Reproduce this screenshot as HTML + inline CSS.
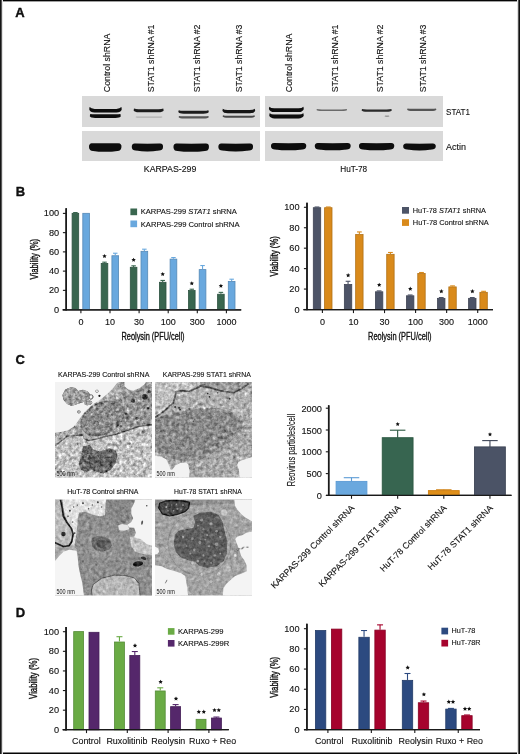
<!DOCTYPE html><html><head><meta charset="utf-8"><style>html,body{margin:0;padding:0;background:#fff;width:520px;height:754px;overflow:hidden}svg{display:block} text{filter:grayscale(1)}</style></head><body>
<svg width="520" height="754" viewBox="0 0 520 754" font-family="'Liberation Sans', sans-serif">
<defs><filter id="bl" x="-20%" y="-50%" width="140%" height="200%"><feGaussianBlur stdDeviation="0.45"/></filter><filter id="bl2" x="-20%" y="-50%" width="140%" height="200%"><feGaussianBlur stdDeviation="0.7"/></filter></defs>
<rect width="520" height="754" fill="#fff"/>
<text x="15.2" y="16.7" font-size="13.0" font-weight="bold" fill="#111" stroke="#000" stroke-width="0.35">A</text>
<text transform="translate(110.4,92.2) rotate(-90)" font-size="9.2" textLength="58.6" lengthAdjust="spacingAndGlyphs" fill="#111" stroke="#111" stroke-width="0.12">Control shRNA</text>
<text transform="translate(153.5,92.2) rotate(-90)" font-size="9.2" textLength="67.6" lengthAdjust="spacingAndGlyphs" fill="#111" stroke="#111" stroke-width="0.12">STAT1 shRNA #1</text>
<text transform="translate(200.1,92.2) rotate(-90)" font-size="9.2" textLength="67.6" lengthAdjust="spacingAndGlyphs" fill="#111" stroke="#111" stroke-width="0.12">STAT1 shRNA #2</text>
<text transform="translate(241.7,92.2) rotate(-90)" font-size="9.2" textLength="67.6" lengthAdjust="spacingAndGlyphs" fill="#111" stroke="#111" stroke-width="0.12">STAT1 shRNA #3</text>
<text transform="translate(292.2,92.2) rotate(-90)" font-size="9.2" textLength="58.6" lengthAdjust="spacingAndGlyphs" fill="#111" stroke="#111" stroke-width="0.12">Control shRNA</text>
<text transform="translate(338.1,92.2) rotate(-90)" font-size="9.2" textLength="67.6" lengthAdjust="spacingAndGlyphs" fill="#111" stroke="#111" stroke-width="0.12">STAT1 shRNA #1</text>
<text transform="translate(383.1,92.2) rotate(-90)" font-size="9.2" textLength="67.6" lengthAdjust="spacingAndGlyphs" fill="#111" stroke="#111" stroke-width="0.12">STAT1 shRNA #2</text>
<text transform="translate(426.3,92.2) rotate(-90)" font-size="9.2" textLength="67.6" lengthAdjust="spacingAndGlyphs" fill="#111" stroke="#111" stroke-width="0.12">STAT1 shRNA #3</text>
<rect x="82" y="96" width="178" height="31" fill="#d9d9d9"/>
<rect x="82" y="131" width="178" height="30" fill="#d9d9d9"/>
<rect x="265" y="96" width="178" height="31" fill="#d9d9d9"/>
<rect x="265" y="131" width="178" height="30" fill="#d9d9d9"/>
<path d="M89.6,107.1 Q91.1,108.9 94.6,108.9 L116.4,108.9 Q119.9,108.9 121.4,107.1 L121.8,109.2 Q120.9,112.4 116.4,112.4 L94.6,112.4 Q90.1,112.4 89.2,109.2 Z" fill="#0d0d0d" opacity="1" filter="url(#bl)"/>
<path d="M90.2,114.0 Q91.7,114.3 95.2,114.3 L115.4,114.3 Q118.9,114.3 120.4,114.0 L120.8,116.2 Q119.9,117.9 115.4,117.9 L95.2,117.9 Q90.7,117.9 89.8,116.2 Z" fill="#0d0d0d" opacity="1" filter="url(#bl)"/>
<path d="M134.0,108.6 Q135.5,109.2 139.0,109.2 L158.3,109.2 Q161.8,109.2 163.3,108.6 L163.7,110.5 Q162.8,112.3 158.3,112.3 L139.0,112.3 Q134.5,112.3 133.6,110.5 Z" fill="#1e1e1e" opacity="1" filter="url(#bl)"/>
<path d="M136.0,116.4 Q137.5,116.4 141.0,116.4 L157.0,116.4 Q160.5,116.4 162.0,116.4 L162.4,117.2 Q161.5,117.8 157.0,117.8 L141.0,117.8 Q136.5,117.8 135.6,117.2 Z" fill="#b0b0b0" opacity="1" filter="url(#bl2)"/>
<path d="M178.7,110.2 Q180.2,110.7 183.7,110.7 L203.4,110.7 Q206.9,110.7 208.4,110.2 L208.8,112.0 Q207.9,113.7 203.4,113.7 L183.7,113.7 Q179.2,113.7 178.3,112.0 Z" fill="#1a1a1a" opacity="1" filter="url(#bl)"/>
<path d="M179.0,115.9 Q180.5,116.3 184.0,116.3 L203.4,116.3 Q206.9,116.3 208.4,115.9 L208.8,117.2 Q207.9,118.5 203.4,118.5 L184.0,118.5 Q179.5,118.5 178.6,117.2 Z" fill="#555" opacity="1" filter="url(#bl)"/>
<path d="M222.8,108.7 Q224.3,109.9 227.8,109.9 L249.8,109.9 Q253.3,109.9 254.8,108.7 L255.2,110.7 Q254.3,113.2 249.8,113.2 L227.8,113.2 Q223.3,113.2 222.4,110.7 Z" fill="#141414" opacity="1" filter="url(#bl)"/>
<path d="M223.0,115.2 Q224.5,115.7 228.0,115.7 L249.5,115.7 Q253.0,115.7 254.5,115.2 L254.9,116.5 Q254.0,117.8 249.5,117.8 L228.0,117.8 Q223.5,117.8 222.6,116.5 Z" fill="#4a4a4a" opacity="1" filter="url(#bl)"/>
<path d="M92.0,143.2 Q105.2,143.5 118.4,143.2 Q121.9,143.5 121.4,147.2 Q121.1,150.9 117.4,150.9 Q105.2,152.7 93.0,150.9 Q89.3,150.9 89.0,147.2 Q88.7,143.5 92.0,143.2 Z" fill="#0a0a0a" filter="url(#bl)"/>
<path d="M134.8,143.5 Q147.4,143.8 160.0,143.5 Q163.5,143.8 163.0,147.2 Q162.7,150.5 159.0,150.5 Q147.4,152.3 135.8,150.5 Q132.1,150.5 131.8,147.2 Q131.5,143.8 134.8,143.5 Z" fill="#0a0a0a" filter="url(#bl)"/>
<path d="M176.5,143.6 Q191.2,143.9 205.9,143.6 Q209.4,143.9 208.9,147.4 Q208.6,150.9 204.9,150.9 Q191.2,152.7 177.5,150.9 Q173.8,150.9 173.5,147.4 Q173.2,143.9 176.5,143.6 Z" fill="#0a0a0a" filter="url(#bl)"/>
<path d="M221.4,143.6 Q235.7,143.9 250.0,143.6 Q253.5,143.9 253.0,147.2 Q252.7,150.5 249.0,150.5 Q235.7,152.3 222.4,150.5 Q218.7,150.5 218.4,147.2 Q218.1,143.9 221.4,143.6 Z" fill="#0a0a0a" filter="url(#bl)"/>
<path d="M269.3,106.7 Q270.8,108.3 274.3,108.3 L298.4,108.3 Q301.9,108.3 303.4,106.7 L303.8,109.0 Q302.9,112.1 298.4,112.1 L274.3,112.1 Q269.8,112.1 268.9,109.0 Z" fill="#0d0d0d" opacity="1" filter="url(#bl)"/>
<path d="M269.6,113.2 Q271.1,114.4 274.6,114.4 L298.4,114.4 Q301.9,114.4 303.4,113.2 L303.8,115.6 Q302.9,118.4 298.4,118.4 L274.6,118.4 Q270.1,118.4 269.2,115.6 Z" fill="#0d0d0d" opacity="1" filter="url(#bl)"/>
<path d="M316.9,109.1 Q318.4,109.4 321.9,109.4 L341.7,109.4 Q345.2,109.4 346.7,109.1 L347.1,110.1 Q346.2,111.1 341.7,111.1 L321.9,111.1 Q317.4,111.1 316.5,110.1 Z" fill="#6a6a6a" opacity="1" filter="url(#bl)"/>
<path d="M362.0,109.1 Q363.5,109.5 367.0,109.5 L386.4,109.5 Q389.9,109.5 391.4,109.1 L391.8,110.5 Q390.9,111.8 386.4,111.8 L367.0,111.8 Q362.5,111.8 361.6,110.5 Z" fill="#2a2a2a" opacity="1" filter="url(#bl)"/>
<path d="M385.0,115.5 Q386.5,115.5 390.0,115.5 L384.0,115.5 Q387.5,115.5 389.0,115.5 L389.4,116.4 Q388.5,117.0 384.0,117.0 L390.0,117.0 Q385.5,117.0 384.6,116.4 Z" fill="#999" opacity="1" filter="url(#bl2)"/>
<path d="M407.5,108.5 Q409.0,108.8 412.5,108.8 L431.0,108.8 Q434.5,108.8 436.0,108.5 L436.4,109.8 Q435.5,111.0 431.0,111.0 L412.5,111.0 Q408.0,111.0 407.1,109.8 Z" fill="#555" opacity="1" filter="url(#bl)"/>
<path d="M274.0,143.0 Q288.6,143.3 303.2,143.0 Q306.7,143.3 306.2,146.4 Q305.9,149.4 302.2,149.4 Q288.6,151.2 275.0,149.4 Q271.3,149.4 271.0,146.4 Q270.7,143.3 274.0,143.0 Z" fill="#0a0a0a" filter="url(#bl)"/>
<path d="M317.8,143.0 Q332.7,143.3 347.6,143.0 Q351.1,143.3 350.6,146.4 Q350.3,149.4 346.6,149.4 Q332.7,151.2 318.8,149.4 Q315.1,149.4 314.8,146.4 Q314.5,143.3 317.8,143.0 Z" fill="#0a0a0a" filter="url(#bl)"/>
<path d="M362.0,143.0 Q376.6,143.3 391.2,143.0 Q394.7,143.3 394.2,146.4 Q393.9,149.4 390.2,149.4 Q376.6,151.2 363.0,149.4 Q359.3,149.4 359.0,146.4 Q358.7,143.3 362.0,143.0 Z" fill="#0a0a0a" filter="url(#bl)"/>
<path d="M406.2,143.6 Q419.4,143.9 432.7,143.6 Q436.2,143.9 435.7,146.8 Q435.4,149.5 431.7,149.5 Q419.4,151.3 407.2,149.5 Q403.5,149.5 403.2,146.8 Q402.9,143.9 406.2,143.6 Z" fill="#0a0a0a" filter="url(#bl)"/>
<text x="446" y="115.1" font-size="9.2" textLength="24.0" lengthAdjust="spacingAndGlyphs" fill="#111" stroke="#111" stroke-width="0.12">STAT1</text>
<text x="446" y="150.1" font-size="9.2" textLength="20.0" lengthAdjust="spacingAndGlyphs" fill="#111" stroke="#111" stroke-width="0.12">Actin</text>
<text x="143.8" y="172.2" font-size="9.0" textLength="52.6" lengthAdjust="spacingAndGlyphs" fill="#111" stroke="#111" stroke-width="0.12">KARPAS-299</text>
<text x="340.2" y="172.2" font-size="9.0" textLength="27.0" lengthAdjust="spacingAndGlyphs" fill="#111" stroke="#111" stroke-width="0.12">HuT-78</text>
<text x="15.8" y="195.7" font-size="13.0" font-weight="bold" fill="#111" stroke="#000" stroke-width="0.35">B</text>
<line x1="66.2" y1="208.3" x2="66.2" y2="310.20000000000005" stroke="#1a1a1a" stroke-width="1.5"/>
<line x1="62.9" y1="309.60" x2="66.2" y2="309.60" stroke="#1a1a1a" stroke-width="1.1"/>
<text x="59.2" y="312.60" font-size="9.2" text-anchor="end" fill="#111" stroke="#111" stroke-width="0.12">0</text>
<line x1="62.9" y1="290.36" x2="66.2" y2="290.36" stroke="#1a1a1a" stroke-width="1.1"/>
<text x="59.2" y="293.36" font-size="9.2" text-anchor="end" fill="#111" stroke="#111" stroke-width="0.12">20</text>
<line x1="62.9" y1="271.12" x2="66.2" y2="271.12" stroke="#1a1a1a" stroke-width="1.1"/>
<text x="59.2" y="274.12" font-size="9.2" text-anchor="end" fill="#111" stroke="#111" stroke-width="0.12">40</text>
<line x1="62.9" y1="251.88" x2="66.2" y2="251.88" stroke="#1a1a1a" stroke-width="1.1"/>
<text x="59.2" y="254.88" font-size="9.2" text-anchor="end" fill="#111" stroke="#111" stroke-width="0.12">60</text>
<line x1="62.9" y1="232.64" x2="66.2" y2="232.64" stroke="#1a1a1a" stroke-width="1.1"/>
<text x="59.2" y="235.64" font-size="9.2" text-anchor="end" fill="#111" stroke="#111" stroke-width="0.12">80</text>
<line x1="62.9" y1="213.40" x2="66.2" y2="213.40" stroke="#1a1a1a" stroke-width="1.1"/>
<text x="59.2" y="216.40" font-size="9.2" text-anchor="end" fill="#111" stroke="#111" stroke-width="0.12">100</text>
<line x1="62.7" y1="309.8" x2="241.2" y2="309.8" stroke="#1a1a1a" stroke-width="1.3"/>
<line x1="80.90" y1="309.8" x2="80.90" y2="313.2" stroke="#1a1a1a" stroke-width="1.1"/>
<line x1="110.00" y1="309.8" x2="110.00" y2="313.2" stroke="#1a1a1a" stroke-width="1.1"/>
<line x1="139.10" y1="309.8" x2="139.10" y2="313.2" stroke="#1a1a1a" stroke-width="1.1"/>
<line x1="168.20" y1="309.8" x2="168.20" y2="313.2" stroke="#1a1a1a" stroke-width="1.1"/>
<line x1="197.30" y1="309.8" x2="197.30" y2="313.2" stroke="#1a1a1a" stroke-width="1.1"/>
<line x1="226.40" y1="309.8" x2="226.40" y2="313.2" stroke="#1a1a1a" stroke-width="1.1"/>
<text x="80.90" y="324.7" font-size="9" text-anchor="middle" fill="#111" stroke="#111" stroke-width="0.12">0</text>
<text x="110.00" y="324.7" font-size="9" text-anchor="middle" fill="#111" stroke="#111" stroke-width="0.12">10</text>
<text x="139.10" y="324.7" font-size="9" text-anchor="middle" fill="#111" stroke="#111" stroke-width="0.12">30</text>
<text x="168.20" y="324.7" font-size="9" text-anchor="middle" fill="#111" stroke="#111" stroke-width="0.12">100</text>
<text x="197.30" y="324.7" font-size="9" text-anchor="middle" fill="#111" stroke="#111" stroke-width="0.12">300</text>
<text x="226.40" y="324.7" font-size="9" text-anchor="middle" fill="#111" stroke="#111" stroke-width="0.12">1000</text>
<rect x="72.10" y="213.32" width="6.60" height="96.28" fill="#39664f" stroke="#2e5340" stroke-width="0.8"/>
<line x1="75.40" y1="212.92" x2="75.40" y2="212.53" stroke="#39664f" stroke-width="1.1"/>
<line x1="73.15" y1="212.53" x2="77.65" y2="212.53" stroke="#39664f" stroke-width="1.1"/>
<rect x="82.80" y="213.32" width="6.70" height="96.28" fill="#69a8de" stroke="#5689b6" stroke-width="0.8"/>
<rect x="101.20" y="263.44" width="6.60" height="46.16" fill="#39664f" stroke="#2e5340" stroke-width="0.8"/>
<line x1="104.50" y1="263.04" x2="104.50" y2="262.17" stroke="#39664f" stroke-width="1.1"/>
<line x1="102.25" y1="262.17" x2="106.75" y2="262.17" stroke="#39664f" stroke-width="1.1"/>
<rect x="111.90" y="255.74" width="6.70" height="53.86" fill="#69a8de" stroke="#5689b6" stroke-width="0.8"/>
<line x1="115.25" y1="255.34" x2="115.25" y2="253.23" stroke="#69a8de" stroke-width="1.1"/>
<line x1="113.00" y1="253.23" x2="117.50" y2="253.23" stroke="#69a8de" stroke-width="1.1"/>
<rect x="130.30" y="267.29" width="6.60" height="42.31" fill="#39664f" stroke="#2e5340" stroke-width="0.8"/>
<line x1="133.60" y1="266.89" x2="133.60" y2="265.83" stroke="#39664f" stroke-width="1.1"/>
<line x1="131.35" y1="265.83" x2="135.85" y2="265.83" stroke="#39664f" stroke-width="1.1"/>
<rect x="141.00" y="251.32" width="6.70" height="58.28" fill="#69a8de" stroke="#5689b6" stroke-width="0.8"/>
<line x1="144.35" y1="250.92" x2="144.35" y2="249.19" stroke="#69a8de" stroke-width="1.1"/>
<line x1="142.10" y1="249.19" x2="146.60" y2="249.19" stroke="#69a8de" stroke-width="1.1"/>
<rect x="159.40" y="282.29" width="6.60" height="27.31" fill="#39664f" stroke="#2e5340" stroke-width="0.8"/>
<line x1="162.70" y1="281.89" x2="162.70" y2="280.45" stroke="#39664f" stroke-width="1.1"/>
<line x1="160.45" y1="280.45" x2="164.95" y2="280.45" stroke="#39664f" stroke-width="1.1"/>
<rect x="170.10" y="259.11" width="6.70" height="50.49" fill="#69a8de" stroke="#5689b6" stroke-width="0.8"/>
<line x1="173.45" y1="258.71" x2="173.45" y2="257.56" stroke="#69a8de" stroke-width="1.1"/>
<line x1="171.20" y1="257.56" x2="175.70" y2="257.56" stroke="#69a8de" stroke-width="1.1"/>
<rect x="188.50" y="290.57" width="6.60" height="19.03" fill="#39664f" stroke="#2e5340" stroke-width="0.8"/>
<line x1="191.80" y1="290.17" x2="191.80" y2="289.21" stroke="#39664f" stroke-width="1.1"/>
<line x1="189.55" y1="289.21" x2="194.05" y2="289.21" stroke="#39664f" stroke-width="1.1"/>
<rect x="199.20" y="269.60" width="6.70" height="40.00" fill="#69a8de" stroke="#5689b6" stroke-width="0.8"/>
<line x1="202.55" y1="269.20" x2="202.55" y2="265.54" stroke="#69a8de" stroke-width="1.1"/>
<line x1="200.30" y1="265.54" x2="204.80" y2="265.54" stroke="#69a8de" stroke-width="1.1"/>
<rect x="217.60" y="294.22" width="6.60" height="15.38" fill="#39664f" stroke="#2e5340" stroke-width="0.8"/>
<line x1="220.90" y1="293.82" x2="220.90" y2="292.38" stroke="#39664f" stroke-width="1.1"/>
<line x1="218.65" y1="292.38" x2="223.15" y2="292.38" stroke="#39664f" stroke-width="1.1"/>
<rect x="228.30" y="281.43" width="6.70" height="28.17" fill="#69a8de" stroke="#5689b6" stroke-width="0.8"/>
<line x1="231.65" y1="281.03" x2="231.65" y2="279.20" stroke="#69a8de" stroke-width="1.1"/>
<line x1="229.40" y1="279.20" x2="233.90" y2="279.20" stroke="#69a8de" stroke-width="1.1"/>
<polygon points="104.50,253.90 105.15,255.31 106.69,255.49 105.55,256.54 105.85,258.06 104.50,257.30 103.15,258.06 103.45,256.54 102.31,255.49 103.85,255.31" fill="#111"/>
<polygon points="133.60,257.70 134.25,259.11 135.79,259.29 134.65,260.34 134.95,261.86 133.60,261.10 132.25,261.86 132.55,260.34 131.41,259.29 132.95,259.11" fill="#111"/>
<polygon points="162.70,271.90 163.35,273.31 164.89,273.49 163.75,274.54 164.05,276.06 162.70,275.30 161.35,276.06 161.65,274.54 160.51,273.49 162.05,273.31" fill="#111"/>
<polygon points="191.80,281.20 192.45,282.61 193.99,282.79 192.85,283.84 193.15,285.36 191.80,284.60 190.45,285.36 190.75,283.84 189.61,282.79 191.15,282.61" fill="#111"/>
<polygon points="220.90,283.70 221.55,285.11 223.09,285.29 221.95,286.34 222.25,287.86 220.90,287.10 219.55,287.86 219.85,286.34 218.71,285.29 220.25,285.11" fill="#111"/>
<line x1="62.7" y1="309.8" x2="241.2" y2="309.8" stroke="#1a1a1a" stroke-width="1.3"/>
<line x1="66.2" y1="208.3" x2="66.2" y2="310.4" stroke="#1a1a1a" stroke-width="1.5"/>
<rect x="130.4" y="208.5" width="6.7" height="6.7" fill="#39664f"/>
<rect x="130.4" y="220.5" width="6.7" height="6.7" fill="#69a8de"/>
<text x="140.7" y="214.4" font-size="7.8" fill="#111" stroke="#111" stroke-width="0.12" textLength="96.2" lengthAdjust="spacingAndGlyphs">KARPAS-299 <tspan font-style="italic">STAT1</tspan> shRNA</text>
<text x="140.7" y="226.5" font-size="7.8" fill="#111" stroke="#111" stroke-width="0.12" textLength="98.8" lengthAdjust="spacingAndGlyphs">KARPAS-299 Control shRNA</text>
<text transform="translate(37.9,279.6) rotate(-90)" font-size="10.8" textLength="40.8" lengthAdjust="spacingAndGlyphs" fill="#111" stroke="#111" stroke-width="0.38">Viability (%)</text>
<text x="153.0" y="339.8" font-size="10.6" text-anchor="middle" textLength="63.0" lengthAdjust="spacingAndGlyphs" fill="#111" stroke="#111" stroke-width="0.35">Reolysin (PFU/cell)</text>
<line x1="307.0" y1="202.8" x2="307.0" y2="310.1" stroke="#1a1a1a" stroke-width="1.5"/>
<line x1="303.9" y1="309.50" x2="307.0" y2="309.50" stroke="#1a1a1a" stroke-width="1.1"/>
<text x="299.6" y="312.50" font-size="9.2" text-anchor="end" fill="#111" stroke="#111" stroke-width="0.12">0</text>
<line x1="303.9" y1="289.06" x2="307.0" y2="289.06" stroke="#1a1a1a" stroke-width="1.1"/>
<text x="299.6" y="292.06" font-size="9.2" text-anchor="end" fill="#111" stroke="#111" stroke-width="0.12">20</text>
<line x1="303.9" y1="268.62" x2="307.0" y2="268.62" stroke="#1a1a1a" stroke-width="1.1"/>
<text x="299.6" y="271.62" font-size="9.2" text-anchor="end" fill="#111" stroke="#111" stroke-width="0.12">40</text>
<line x1="303.9" y1="248.18" x2="307.0" y2="248.18" stroke="#1a1a1a" stroke-width="1.1"/>
<text x="299.6" y="251.18" font-size="9.2" text-anchor="end" fill="#111" stroke="#111" stroke-width="0.12">60</text>
<line x1="303.9" y1="227.74" x2="307.0" y2="227.74" stroke="#1a1a1a" stroke-width="1.1"/>
<text x="299.6" y="230.74" font-size="9.2" text-anchor="end" fill="#111" stroke="#111" stroke-width="0.12">80</text>
<line x1="303.9" y1="207.30" x2="307.0" y2="207.30" stroke="#1a1a1a" stroke-width="1.1"/>
<text x="299.6" y="210.30" font-size="9.2" text-anchor="end" fill="#111" stroke="#111" stroke-width="0.12">100</text>
<line x1="303.5" y1="309.7" x2="493.0" y2="309.7" stroke="#1a1a1a" stroke-width="1.3"/>
<line x1="322.40" y1="309.7" x2="322.40" y2="313.09999999999997" stroke="#1a1a1a" stroke-width="1.1"/>
<line x1="353.46" y1="309.7" x2="353.46" y2="313.09999999999997" stroke="#1a1a1a" stroke-width="1.1"/>
<line x1="384.52" y1="309.7" x2="384.52" y2="313.09999999999997" stroke="#1a1a1a" stroke-width="1.1"/>
<line x1="415.58" y1="309.7" x2="415.58" y2="313.09999999999997" stroke="#1a1a1a" stroke-width="1.1"/>
<line x1="446.64" y1="309.7" x2="446.64" y2="313.09999999999997" stroke="#1a1a1a" stroke-width="1.1"/>
<line x1="477.70" y1="309.7" x2="477.70" y2="313.09999999999997" stroke="#1a1a1a" stroke-width="1.1"/>
<text x="322.40" y="324.8" font-size="9" text-anchor="middle" fill="#111" stroke="#111" stroke-width="0.12">0</text>
<text x="353.46" y="324.8" font-size="9" text-anchor="middle" fill="#111" stroke="#111" stroke-width="0.12">10</text>
<text x="384.52" y="324.8" font-size="9" text-anchor="middle" fill="#111" stroke="#111" stroke-width="0.12">30</text>
<text x="415.58" y="324.8" font-size="9" text-anchor="middle" fill="#111" stroke="#111" stroke-width="0.12">100</text>
<text x="446.64" y="324.8" font-size="9" text-anchor="middle" fill="#111" stroke="#111" stroke-width="0.12">300</text>
<text x="477.70" y="324.8" font-size="9" text-anchor="middle" fill="#111" stroke="#111" stroke-width="0.12">1000</text>
<rect x="313.30" y="207.70" width="7.40" height="101.80" fill="#4d5467" stroke="#3f4454" stroke-width="0.8"/>
<line x1="317.00" y1="207.30" x2="317.00" y2="206.99" stroke="#4d5467" stroke-width="1.1"/>
<line x1="314.60" y1="206.99" x2="319.40" y2="206.99" stroke="#4d5467" stroke-width="1.1"/>
<rect x="324.60" y="207.70" width="7.40" height="101.80" fill="#d98a1b" stroke="#b17116" stroke-width="0.8"/>
<line x1="328.30" y1="207.30" x2="328.30" y2="206.99" stroke="#d98a1b" stroke-width="1.1"/>
<line x1="325.90" y1="206.99" x2="330.70" y2="206.99" stroke="#d98a1b" stroke-width="1.1"/>
<rect x="344.36" y="284.45" width="7.40" height="25.05" fill="#4d5467" stroke="#3f4454" stroke-width="0.8"/>
<line x1="348.06" y1="284.05" x2="348.06" y2="281.29" stroke="#4d5467" stroke-width="1.1"/>
<line x1="345.66" y1="281.29" x2="350.46" y2="281.29" stroke="#4d5467" stroke-width="1.1"/>
<rect x="355.66" y="234.58" width="7.40" height="74.92" fill="#d98a1b" stroke="#b17116" stroke-width="0.8"/>
<line x1="359.36" y1="234.18" x2="359.36" y2="231.93" stroke="#d98a1b" stroke-width="1.1"/>
<line x1="356.96" y1="231.93" x2="361.76" y2="231.93" stroke="#d98a1b" stroke-width="1.1"/>
<rect x="375.42" y="291.81" width="7.40" height="17.69" fill="#4d5467" stroke="#3f4454" stroke-width="0.8"/>
<line x1="379.12" y1="291.41" x2="379.12" y2="290.90" stroke="#4d5467" stroke-width="1.1"/>
<line x1="376.72" y1="290.90" x2="381.52" y2="290.90" stroke="#4d5467" stroke-width="1.1"/>
<rect x="386.72" y="254.30" width="7.40" height="55.20" fill="#d98a1b" stroke="#b17116" stroke-width="0.8"/>
<line x1="390.42" y1="253.90" x2="390.42" y2="252.47" stroke="#d98a1b" stroke-width="1.1"/>
<line x1="388.02" y1="252.47" x2="392.82" y2="252.47" stroke="#d98a1b" stroke-width="1.1"/>
<rect x="406.48" y="295.80" width="7.40" height="13.70" fill="#4d5467" stroke="#3f4454" stroke-width="0.8"/>
<line x1="410.18" y1="295.40" x2="410.18" y2="294.99" stroke="#4d5467" stroke-width="1.1"/>
<line x1="407.78" y1="294.99" x2="412.58" y2="294.99" stroke="#4d5467" stroke-width="1.1"/>
<rect x="417.78" y="273.52" width="7.40" height="35.98" fill="#d98a1b" stroke="#b17116" stroke-width="0.8"/>
<line x1="421.48" y1="273.12" x2="421.48" y2="272.50" stroke="#d98a1b" stroke-width="1.1"/>
<line x1="419.08" y1="272.50" x2="423.88" y2="272.50" stroke="#d98a1b" stroke-width="1.1"/>
<rect x="437.54" y="298.35" width="7.40" height="11.15" fill="#4d5467" stroke="#3f4454" stroke-width="0.8"/>
<line x1="441.24" y1="297.95" x2="441.24" y2="297.54" stroke="#4d5467" stroke-width="1.1"/>
<line x1="438.84" y1="297.54" x2="443.64" y2="297.54" stroke="#4d5467" stroke-width="1.1"/>
<rect x="448.84" y="286.90" width="7.40" height="22.60" fill="#d98a1b" stroke="#b17116" stroke-width="0.8"/>
<line x1="452.54" y1="286.50" x2="452.54" y2="285.89" stroke="#d98a1b" stroke-width="1.1"/>
<line x1="450.14" y1="285.89" x2="454.94" y2="285.89" stroke="#d98a1b" stroke-width="1.1"/>
<rect x="468.60" y="298.35" width="7.40" height="11.15" fill="#4d5467" stroke="#3f4454" stroke-width="0.8"/>
<line x1="472.30" y1="297.95" x2="472.30" y2="297.54" stroke="#4d5467" stroke-width="1.1"/>
<line x1="469.90" y1="297.54" x2="474.70" y2="297.54" stroke="#4d5467" stroke-width="1.1"/>
<rect x="479.90" y="292.32" width="7.40" height="17.18" fill="#d98a1b" stroke="#b17116" stroke-width="0.8"/>
<line x1="483.60" y1="291.92" x2="483.60" y2="291.31" stroke="#d98a1b" stroke-width="1.1"/>
<line x1="481.20" y1="291.31" x2="486.00" y2="291.31" stroke="#d98a1b" stroke-width="1.1"/>
<polygon points="348.16,273.00 348.81,274.41 350.35,274.59 349.21,275.64 349.51,277.16 348.16,276.40 346.81,277.16 347.11,275.64 345.97,274.59 347.51,274.41" fill="#111"/>
<polygon points="379.22,282.70 379.87,284.11 381.41,284.29 380.27,285.34 380.57,286.86 379.22,286.10 377.87,286.86 378.17,285.34 377.03,284.29 378.57,284.11" fill="#111"/>
<polygon points="410.28,286.60 410.93,288.01 412.47,288.19 411.33,289.24 411.63,290.76 410.28,290.00 408.93,290.76 409.23,289.24 408.09,288.19 409.63,288.01" fill="#111"/>
<polygon points="441.34,289.00 441.99,290.41 443.53,290.59 442.39,291.64 442.69,293.16 441.34,292.40 439.99,293.16 440.29,291.64 439.15,290.59 440.69,290.41" fill="#111"/>
<polygon points="472.40,289.00 473.05,290.41 474.59,290.59 473.45,291.64 473.75,293.16 472.40,292.40 471.05,293.16 471.35,291.64 470.21,290.59 471.75,290.41" fill="#111"/>
<line x1="303.5" y1="309.7" x2="493.0" y2="309.7" stroke="#1a1a1a" stroke-width="1.3"/>
<line x1="307.0" y1="202.8" x2="307.0" y2="310.3" stroke="#1a1a1a" stroke-width="1.5"/>
<rect x="402" y="207" width="7" height="6.7" fill="#4d5467"/>
<rect x="402" y="219.2" width="7" height="6.7" fill="#d98a1b"/>
<text x="412.8" y="213.0" font-size="7.6" fill="#111" stroke="#111" stroke-width="0.12" textLength="73.2" lengthAdjust="spacingAndGlyphs">HuT-78 <tspan font-style="italic">STAT1</tspan> shRNA</text>
<text x="412.8" y="224.6" font-size="7.6" fill="#111" stroke="#111" stroke-width="0.12" textLength="76.0" lengthAdjust="spacingAndGlyphs">HuT-78 Control shRNA</text>
<text transform="translate(278.1,276.6) rotate(-90)" font-size="10.8" textLength="40.4" lengthAdjust="spacingAndGlyphs" fill="#111" stroke="#111" stroke-width="0.38">Viability (%)</text>
<text x="399.8" y="339.6" font-size="10.6" text-anchor="middle" textLength="63.5" lengthAdjust="spacingAndGlyphs" fill="#111" stroke="#111" stroke-width="0.35">Reolysin (PFU/cell)</text>
<text x="15.6" y="363.8" font-size="13.0" font-weight="bold" fill="#111" stroke="#000" stroke-width="0.35">C</text>
<text x="58.0" y="376.7" font-size="7.5" textLength="91.4" lengthAdjust="spacingAndGlyphs" fill="#111" stroke="#111" stroke-width="0.12">KARPAS-299 Control shRNA</text>
<text x="250.8" y="376.7" font-size="7.5" text-anchor="end" textLength="88.0" lengthAdjust="spacingAndGlyphs" fill="#111" stroke="#111" stroke-width="0.12">KARPAS-299 STAT1 shRNA</text>
<text x="67.3" y="494.2" font-size="7.5" textLength="71.2" lengthAdjust="spacingAndGlyphs" fill="#111" stroke="#111" stroke-width="0.12">HuT-78 Control shRNA</text>
<text x="241.8" y="494.2" font-size="7.5" text-anchor="end" textLength="67.8" lengthAdjust="spacingAndGlyphs" fill="#111" stroke="#111" stroke-width="0.12">HuT-78 STAT1 shRNA</text>
<defs><filter id="soft" x="-10%" y="-10%" width="120%" height="120%"><feGaussianBlur stdDeviation="2"/></filter><filter id="emtex1" x="-40" y="-40" width="600" height="600" filterUnits="userSpaceOnUse" color-interpolation-filters="sRGB"><feGaussianBlur in="SourceGraphic" stdDeviation="3" result="b"/><feTurbulence type="fractalNoise" baseFrequency="0.055" numOctaves="3" seed="7" result="n"/><feColorMatrix in="n" type="matrix" values="0.33 0.33 0.33 0 0  0.33 0.33 0.33 0 0  0.33 0.33 0.33 0 0  0 0 0 0 1" result="ng"/><feComposite in="b" in2="ng" operator="arithmetic" k1="0" k2="1" k3="1.35" k4="-0.675" result="c"/><feComposite in="c" in2="SourceGraphic" operator="in"/></filter><filter id="emtex2" x="-40" y="-40" width="600" height="600" filterUnits="userSpaceOnUse" color-interpolation-filters="sRGB"><feGaussianBlur in="SourceGraphic" stdDeviation="3" result="b"/><feTurbulence type="fractalNoise" baseFrequency="0.055" numOctaves="3" seed="14" result="n"/><feColorMatrix in="n" type="matrix" values="0.33 0.33 0.33 0 0  0.33 0.33 0.33 0 0  0.33 0.33 0.33 0 0  0 0 0 0 1" result="ng"/><feComposite in="b" in2="ng" operator="arithmetic" k1="0" k2="1" k3="1.0" k4="-0.5" result="c"/><feComposite in="c" in2="SourceGraphic" operator="in"/></filter><filter id="emtex3" x="-40" y="-40" width="600" height="600" filterUnits="userSpaceOnUse" color-interpolation-filters="sRGB"><feGaussianBlur in="SourceGraphic" stdDeviation="3" result="b"/><feTurbulence type="fractalNoise" baseFrequency="0.055" numOctaves="3" seed="21" result="n"/><feColorMatrix in="n" type="matrix" values="0.33 0.33 0.33 0 0  0.33 0.33 0.33 0 0  0.33 0.33 0.33 0 0  0 0 0 0 1" result="ng"/><feComposite in="b" in2="ng" operator="arithmetic" k1="0" k2="1" k3="0.65" k4="-0.325" result="c"/><feComposite in="c" in2="SourceGraphic" operator="in"/></filter><filter id="emtex4" x="-40" y="-40" width="600" height="600" filterUnits="userSpaceOnUse" color-interpolation-filters="sRGB"><feGaussianBlur in="SourceGraphic" stdDeviation="3" result="b"/><feTurbulence type="fractalNoise" baseFrequency="0.055" numOctaves="3" seed="28" result="n"/><feColorMatrix in="n" type="matrix" values="0.33 0.33 0.33 0 0  0.33 0.33 0.33 0 0  0.33 0.33 0.33 0 0  0 0 0 0 1" result="ng"/><feComposite in="b" in2="ng" operator="arithmetic" k1="0" k2="1" k3="0.6" k4="-0.3" result="c"/><feComposite in="c" in2="SourceGraphic" operator="in"/></filter></defs><svg x="55" y="382" width="97" height="95.6" viewBox="0 0 520 512.5" preserveAspectRatio="none" overflow="hidden"><g filter="url(#emtex1)"><rect x="-40" y="-40" width="600" height="600" fill="#ababab"/><polygon points="0,340 10,335 67,290 149,283 156,304 180,314 232,304 268,293 330,280 380,262 450,238 520,228 520,540 -20,540 -20,340" fill="#c3c3c3"/><polygon points="345,0 540,0 540,225 450,238 380,262 340,275 360,200 372,120 360,60" fill="#999999"/><ellipse cx="255" cy="195" rx="122" ry="82" fill="#8d8d8d" transform="rotate(-28 255 195)" stroke="#707070" stroke-width="7"/><polyline points="0,340 10,335 67,290 149,283 156,304 180,314 232,304 268,293 330,280 380,262 450,238 520,228" fill="none" stroke="#606060" stroke-width="7" stroke-linejoin="round" stroke-linecap="round"/><polygon points="150,345 185,338 205,360 240,372 290,355 325,365 335,400 322,440 300,470 260,490 225,482 200,470 170,482 140,472 128,440 138,400 146,370" fill="#676767"/><circle cx="418" cy="100" r="11" fill="#2f2f2f"/><circle cx="482" cy="80" r="15" fill="#3c3c3c"/><circle cx="505" cy="52" r="8" fill="#4a4a4a"/><circle cx="382" cy="172" r="7" fill="#3a3a3a"/><circle cx="440" cy="195" r="9" fill="#4f4f4f"/><circle cx="352" cy="238" r="6" fill="#333"/><circle cx="470" cy="272" r="9" fill="#777"/><circle cx="500" cy="140" r="7" fill="#555"/><circle cx="120" cy="330" r="6" fill="#666"/><circle cx="60" cy="420" r="8" fill="#888"/><circle cx="400" cy="330" r="6" fill="#777"/><circle cx="180" cy="430" r="8" fill="#444"/></g><g filter="url(#soft)"><polygon points="0,0 340,0 330,10 310,35 285,60 260,80 235,100 210,115 185,135 160,160 140,185 120,215 100,240 70,258 30,268 0,272" fill="#f3f3f3"/><polygon points="372,0 375,25 392,40 420,45 455,32 480,12 488,0" fill="#f3f3f3"/></g><g filter="url(#emtex1)"><polygon points="40,70 55,40 85,28 110,32 125,48 150,42 175,50 190,70 180,95 150,108 120,118 90,128 65,118 45,95" fill="#9d9d9d"/><ellipse cx="178" cy="112" rx="22" ry="12" fill="#a5a5a5" transform="rotate(-10 178 112)"/><circle cx="128" cy="160" r="9" fill="#b0b0b0"/><circle cx="192" cy="80" r="12" fill="none" stroke="#666" stroke-width="4"/><circle cx="238" cy="74" r="6" fill="#222"/><circle cx="225" cy="50" r="8" fill="#ccc"/></g><text x="8" y="505" font-size="40" fill="#111" textLength="98" lengthAdjust="spacingAndGlyphs">500 nm</text></svg><svg x="155" y="382" width="97" height="95.6" viewBox="0 0 520 512.5" preserveAspectRatio="none" overflow="hidden"><g filter="url(#emtex2)"><rect x="-40" y="-40" width="600" height="600" fill="#a8a8a8"/><polygon points="0,0 268,0 268,15 247,21 216,36 180,51 144,46 113,51 108,77 98,113 77,129 57,149 31,170 0,190" fill="#c2c2c2"/><polygon points="242,0 520,0 520,10 500,10 463,36 422,57 371,51 294,31 242,21" fill="#9c9c9c"/><polygon points="113,51 144,46 180,51 216,36 247,21 294,31 371,51 422,57 463,36 500,10 520,10 520,200 460,180 380,150 300,140 200,150 110,160 98,113 108,77" fill="#b0b0b0"/><polygon points="0,200 40,180 100,165 180,150 260,140 340,140 410,160 455,200 470,246 440,286 400,326 340,356 290,396 230,421 160,426 100,416 40,386 0,376" fill="#8b8b8b"/><polyline points="0,190 31,170 57,149 77,129 98,113 108,77 113,51 144,46 180,51 216,36 247,21 268,15" fill="none" stroke="#5a5a5a" stroke-width="9" stroke-linejoin="round" stroke-linecap="round"/><polyline points="242,21 294,31 371,51 422,57 463,36 500,10" fill="none" stroke="#5a5a5a" stroke-width="9" stroke-linejoin="round" stroke-linecap="round"/><circle cx="108" cy="134" r="6" fill="#333"/><circle cx="129" cy="139" r="5" fill="#333"/><circle cx="134" cy="149" r="5" fill="#444"/><circle cx="185" cy="144" r="6" fill="#444"/><circle cx="283" cy="62" r="5" fill="#333"/><circle cx="292" cy="80" r="5" fill="#444"/><circle cx="335" cy="58" r="5" fill="#444"/><circle cx="400" cy="90" r="5" fill="#333"/><circle cx="205" cy="210" r="4" fill="#222"/><circle cx="494" cy="67" r="14" fill="#c4c4c4"/><circle cx="125" cy="70" r="8" fill="#dedede"/><circle cx="265" cy="140" r="6" fill="#d0d0d0"/><circle cx="80" cy="330" r="9" fill="#a8a8a8"/><circle cx="170" cy="270" r="8" fill="#a0a0a0"/></g><g filter="url(#soft)"><polygon points="0,396 35,401 60,414 70,436 85,471 95,468 110,446 135,434 165,431 178,441 185,476 182,530 -10,530 -10,396" fill="#f2f2f2"/><polygon points="530,400 495,410 470,418 448,428 440,445 450,470 455,530 530,530" fill="#f2f2f2"/></g><g filter="url(#emtex2)"></g><text x="8" y="505" font-size="40" fill="#111" textLength="98" lengthAdjust="spacingAndGlyphs">500 nm</text></svg><svg x="55" y="499.5" width="97" height="96" viewBox="0 0 520 514.6" preserveAspectRatio="none" overflow="hidden"><g filter="url(#emtex3)"><rect x="-40" y="-40" width="600" height="600" fill="#8f8f8f"/><polygon points="270,0 410,0 400,60 395,100 360,130 330,140 300,100 280,60" fill="#888"/><polygon points="0,0 30,0 40,30 45,80 60,120 85,150 95,180 90,220 75,245 50,250 20,240 0,235" fill="#bdbdbd"/><polygon points="40,-10 275,-10 270,40 268,85 240,90 200,80 160,65 130,70 122,100 120,140 112,200 104,250 92,268 88,240 97,200 92,160 72,130 55,90 45,40" fill="#e0e0e0"/><circle cx="80" cy="60" r="5" fill="#444"/><circle cx="100" cy="40" r="4" fill="#444"/><circle cx="150" cy="20" r="5" fill="#444"/><circle cx="200" cy="30" r="4" fill="#444"/><circle cx="230" cy="15" r="5" fill="#444"/><circle cx="95" cy="120" r="4" fill="#444"/><circle cx="105" cy="180" r="5" fill="#444"/><circle cx="70" cy="90" r="4" fill="#444"/><circle cx="180" cy="50" r="4" fill="#444"/><circle cx="120" cy="30" r="3" fill="#444"/><circle cx="250" cy="40" r="4" fill="#444"/><polygon points="-10,232 15,238 45,252 75,248 95,240 118,270 116,300 -10,340" fill="#ababab"/><polyline points="30,5 38,40 45,90 65,125 88,155 97,185 90,225 75,248 45,252 15,238 0,232" fill="none" stroke="#1e1e1e" stroke-width="9" stroke-linejoin="round" stroke-linecap="round"/><circle cx="45" cy="185" r="12" fill="#333"/><polygon points="400,200 450,195 500,230 520,250 520,300 490,295 460,290 430,280 410,250" fill="#c4c4c4"/><circle cx="250" cy="240" r="75" fill="#979797"/><polygon points="200,205 230,195 265,200 295,215 305,245 290,270 255,280 220,272 200,250 195,225" fill="#6a6a6a"/><circle cx="245" cy="238" r="22" fill="#555"/><polygon points="205,455 250,422 320,405 380,408 425,420 450,450 458,530 200,530 195,485" fill="#b8b8b8" stroke="#555" stroke-width="5"/><ellipse cx="445" cy="345" rx="28" ry="14" fill="#1a1a1a" transform="rotate(-10 445 345)"/><ellipse cx="475" cy="315" rx="15" ry="8" fill="#333" transform="rotate(20 475 315)"/><circle cx="470" cy="125" r="8" fill="#666"/><circle cx="150" cy="330" r="6" fill="#666"/><circle cx="220" cy="350" r="5" fill="#666"/><circle cx="180" cy="280" r="4" fill="#777"/><circle cx="260" cy="330" r="5" fill="#777"/><circle cx="330" cy="330" r="6" fill="#777"/></g><g filter="url(#soft)"><polygon points="434,-10 530,-10 530,252 489,237 459,212 424,202 434,177 424,151 398,150 388,136 409,121 419,101 409,76 409,50 424,20" fill="#f4f4f4"/><polygon points="338,140 360,131 392,138 398,160 370,168 345,165" fill="#e6e6e6"/><ellipse cx="467" cy="124" rx="5" ry="12" fill="#555" transform="rotate(10 467 124)"/><circle cx="492" cy="33" r="4" fill="#444"/><polygon points="-10,330 0,330 20,305 45,280 76,270 116,275 121,305 126,356 136,406 146,446 151,482 157,530 -10,530" fill="#f5f5f5"/></g><g filter="url(#emtex3)"></g><text x="8" y="505" font-size="40" fill="#111" textLength="98" lengthAdjust="spacingAndGlyphs">500 nm</text></svg><svg x="155" y="499.5" width="97" height="96" viewBox="0 0 520 514.6" preserveAspectRatio="none" overflow="hidden"><g filter="url(#emtex4)"><rect x="-40" y="-40" width="600" height="600" fill="#a3a3a3"/><polygon points="0,0 430,0 425,22 300,25 200,30 100,32 0,45" fill="#8e8e8e"/><circle cx="238" cy="238" r="168" fill="#a6a6a6" stroke="#8a8a8a" stroke-width="4"/><polygon points="20,45 25,20 60,8 100,5 150,8 185,15 180,45 160,65 120,80 80,88 40,78" fill="#4a4a4a" stroke="#1a1a1a" stroke-width="7"/><circle cx="60" cy="40" r="5" fill="#9a9a9a"/><circle cx="90" cy="30" r="4" fill="#9a9a9a"/><circle cx="120" cy="50" r="6" fill="#9a9a9a"/><circle cx="150" cy="30" r="5" fill="#9a9a9a"/><circle cx="100" cy="60" r="4" fill="#9a9a9a"/><circle cx="140" cy="55" r="4" fill="#9a9a9a"/><circle cx="70" cy="60" r="4" fill="#9a9a9a"/><circle cx="115" cy="25" r="4" fill="#9a9a9a"/><polygon points="205,88 240,72 300,66 340,82 362,118 372,165 388,225 385,290 368,330 330,358 280,366 240,358 215,335 180,325 140,312 112,282 100,240 106,192 126,166 168,160 206,152 215,120" fill="#5e5e5e"/><circle cx="250" cy="110" r="8" fill="#999"/><circle cx="300" cy="130" r="9" fill="#999"/><circle cx="330" cy="170" r="7" fill="#999"/><circle cx="260" cy="160" r="6" fill="#999"/><circle cx="200" cy="210" r="7" fill="#999"/><circle cx="240" cy="230" r="8" fill="#999"/><circle cx="290" cy="250" r="6" fill="#999"/><circle cx="330" cy="240" r="9" fill="#999"/><circle cx="210" cy="270" r="7" fill="#999"/><circle cx="260" cy="300" r="6" fill="#999"/><circle cx="320" cy="300" r="7" fill="#999"/><circle cx="170" cy="250" r="5" fill="#999"/><circle cx="150" cy="200" r="6" fill="#999"/><circle cx="280" cy="190" r="5" fill="#999"/><circle cx="350" cy="200" r="6" fill="#999"/><circle cx="230" cy="330" r="7" fill="#999"/><circle cx="300" cy="340" r="6" fill="#999"/><circle cx="270" cy="215" r="5" fill="#999"/><circle cx="190" cy="290" r="5" fill="#999"/><circle cx="350" cy="290" r="5" fill="#999"/><circle cx="230" cy="140" r="5" fill="#999"/><circle cx="370" cy="70" r="20" fill="#c8c8c8" stroke="#888" stroke-width="3"/><circle cx="392" cy="372" r="18" fill="#c8c8c8" stroke="#888" stroke-width="3"/><circle cx="342" cy="400" r="12" fill="#c8c8c8" stroke="#888" stroke-width="3"/><circle cx="300" cy="440" r="10" fill="#c8c8c8" stroke="#888" stroke-width="3"/><circle cx="250" cy="402" r="10" fill="#c8c8c8" stroke="#888" stroke-width="3"/><circle cx="200" cy="340" r="10" fill="#c8c8c8" stroke="#888" stroke-width="3"/><circle cx="430" cy="300" r="10" fill="#c8c8c8" stroke="#888" stroke-width="3"/></g><g filter="url(#soft)"><polygon points="425,0 520,0 520,118 503,107 482,95 462,78 441,54 429,33" fill="#f4f4f4"/><polygon points="520,172 490,178 470,190 440,200 430,212 440,240 452,270 462,303 478,324 491,352 491,385 462,398 429,410 400,435 380,455 367,476 363,520 520,520" fill="#f4f4f4"/><polygon points="0,252 18,262 22,280 12,292 0,295" fill="#f4f4f4"/><polygon points="0,352 35,358 65,372 100,382 140,395 162,410 170,455 178,520 0,520" fill="#f4f4f4"/></g><g filter="url(#emtex4)"><ellipse cx="440" cy="270" rx="18" ry="5" fill="#999" transform="rotate(-30 440 270)"/><ellipse cx="470" cy="260" rx="12" ry="4" fill="#999" transform="rotate(-40 470 260)"/><ellipse cx="495" cy="255" rx="8" ry="3" fill="#999" transform="rotate(0 495 255)"/><ellipse cx="60" cy="440" rx="12" ry="3" fill="#999" transform="rotate(-60 60 440)"/></g><text x="8" y="505" font-size="40" fill="#111" textLength="98" lengthAdjust="spacingAndGlyphs">500 nm</text></svg>
<line x1="328.7" y1="405.3" x2="328.7" y2="496.0" stroke="#1a1a1a" stroke-width="1.5"/>
<line x1="325.8" y1="495.40" x2="328.7" y2="495.40" stroke="#1a1a1a" stroke-width="1.1"/>
<text x="321.9" y="499.00" font-size="9.2" text-anchor="end" fill="#111" stroke="#111" stroke-width="0.12">0</text>
<line x1="325.8" y1="473.60" x2="328.7" y2="473.60" stroke="#1a1a1a" stroke-width="1.1"/>
<text x="321.9" y="477.20" font-size="9.2" text-anchor="end" fill="#111" stroke="#111" stroke-width="0.12">500</text>
<line x1="325.8" y1="451.80" x2="328.7" y2="451.80" stroke="#1a1a1a" stroke-width="1.1"/>
<text x="321.9" y="455.40" font-size="9.2" text-anchor="end" fill="#111" stroke="#111" stroke-width="0.12">1000</text>
<line x1="325.8" y1="430.00" x2="328.7" y2="430.00" stroke="#1a1a1a" stroke-width="1.1"/>
<text x="321.9" y="433.60" font-size="9.2" text-anchor="end" fill="#111" stroke="#111" stroke-width="0.12">1500</text>
<line x1="325.8" y1="408.20" x2="328.7" y2="408.20" stroke="#1a1a1a" stroke-width="1.1"/>
<text x="321.9" y="411.80" font-size="9.2" text-anchor="end" fill="#111" stroke="#111" stroke-width="0.12">2000</text>
<line x1="328.0" y1="495.4" x2="511.5" y2="495.4" stroke="#1a1a1a" stroke-width="1.3"/>
<line x1="351.50" y1="495.4" x2="351.50" y2="498.79999999999995" stroke="#1a1a1a" stroke-width="1.1"/>
<line x1="397.65" y1="495.4" x2="397.65" y2="498.79999999999995" stroke="#1a1a1a" stroke-width="1.1"/>
<line x1="443.80" y1="495.4" x2="443.80" y2="498.79999999999995" stroke="#1a1a1a" stroke-width="1.1"/>
<line x1="489.95" y1="495.4" x2="489.95" y2="498.79999999999995" stroke="#1a1a1a" stroke-width="1.1"/>
<rect x="336.10" y="481.40" width="30.80" height="14.00" fill="#6aa8de" stroke="#5b9bd5" stroke-width="0.9"/>
<line x1="351.50" y1="481.40" x2="351.50" y2="477.70" stroke="#5b9bd5" stroke-width="1.1"/>
<line x1="343.75" y1="477.70" x2="359.25" y2="477.70" stroke="#5b9bd5" stroke-width="1.1"/>
<rect x="382.25" y="437.70" width="30.80" height="57.70" fill="#376550" stroke="#2b5741" stroke-width="0.9"/>
<line x1="397.65" y1="437.70" x2="397.65" y2="430.20" stroke="#2b5741" stroke-width="1.1"/>
<line x1="389.90" y1="430.20" x2="405.40" y2="430.20" stroke="#2b5741" stroke-width="1.1"/>
<rect x="428.40" y="490.60" width="30.80" height="4.80" fill="#df8f1a" stroke="#cf7f10" stroke-width="0.9"/>
<line x1="443.80" y1="490.60" x2="443.80" y2="489.80" stroke="#cf7f10" stroke-width="1.1"/>
<line x1="436.05" y1="489.80" x2="451.55" y2="489.80" stroke="#cf7f10" stroke-width="1.1"/>
<rect x="474.55" y="446.90" width="30.80" height="48.50" fill="#4b5366" stroke="#3e4556" stroke-width="0.9"/>
<line x1="489.95" y1="446.90" x2="489.95" y2="440.60" stroke="#3e4556" stroke-width="1.1"/>
<line x1="482.20" y1="440.60" x2="497.70" y2="440.60" stroke="#3e4556" stroke-width="1.1"/>
<polygon points="397.70,422.00 398.32,423.35 399.79,423.52 398.70,424.53 398.99,425.98 397.70,425.26 396.41,425.98 396.70,424.53 395.61,423.52 397.08,423.35" fill="#111"/>
<polygon points="490.00,432.20 490.62,433.55 492.09,433.72 491.00,434.73 491.29,436.18 490.00,435.46 488.71,436.18 489.00,434.73 487.91,433.72 489.38,433.55" fill="#111"/>
<line x1="326.0" y1="495.4" x2="511.5" y2="495.4" stroke="#1a1a1a" stroke-width="1.4"/>
<line x1="328.7" y1="405.3" x2="328.7" y2="496.0" stroke="#1a1a1a" stroke-width="1.5"/>
<text transform="translate(354.90,508.6) rotate(-45)" font-size="8.8" text-anchor="end" fill="#111" stroke="#111" stroke-width="0.12">KARPAS-299 Control shRNA</text>
<text transform="translate(401.05,508.6) rotate(-45)" font-size="8.8" text-anchor="end" fill="#111" stroke="#111" stroke-width="0.12">KARPAS-299 STAT1 shRNA</text>
<text transform="translate(447.20,508.6) rotate(-45)" font-size="8.8" text-anchor="end" fill="#111" stroke="#111" stroke-width="0.12">HuT-78 Control shRNA</text>
<text transform="translate(493.35,508.6) rotate(-45)" font-size="8.8" text-anchor="end" fill="#111" stroke="#111" stroke-width="0.12">HuT-78 STAT1 shRNA</text>
<text transform="translate(295.2,486.2) rotate(-90)" font-size="10.4" textLength="72.3" lengthAdjust="spacingAndGlyphs" fill="#111" stroke="#111" stroke-width="0.12">Reovirus particles/cell</text>
<text x="15.8" y="617.1" font-size="13.0" font-weight="bold" fill="#111" stroke="#000" stroke-width="0.35">D</text>
<line x1="66.1" y1="627.0" x2="66.1" y2="730.4" stroke="#1a1a1a" stroke-width="1.5"/>
<line x1="62.9" y1="729.80" x2="66.1" y2="729.80" stroke="#1a1a1a" stroke-width="1.1"/>
<text x="59.0" y="732.80" font-size="9.2" text-anchor="end" fill="#111" stroke="#111" stroke-width="0.12">0</text>
<line x1="62.9" y1="710.18" x2="66.1" y2="710.18" stroke="#1a1a1a" stroke-width="1.1"/>
<text x="59.0" y="713.18" font-size="9.2" text-anchor="end" fill="#111" stroke="#111" stroke-width="0.12">20</text>
<line x1="62.9" y1="690.56" x2="66.1" y2="690.56" stroke="#1a1a1a" stroke-width="1.1"/>
<text x="59.0" y="693.56" font-size="9.2" text-anchor="end" fill="#111" stroke="#111" stroke-width="0.12">40</text>
<line x1="62.9" y1="670.94" x2="66.1" y2="670.94" stroke="#1a1a1a" stroke-width="1.1"/>
<text x="59.0" y="673.94" font-size="9.2" text-anchor="end" fill="#111" stroke="#111" stroke-width="0.12">60</text>
<line x1="62.9" y1="651.32" x2="66.1" y2="651.32" stroke="#1a1a1a" stroke-width="1.1"/>
<text x="59.0" y="654.32" font-size="9.2" text-anchor="end" fill="#111" stroke="#111" stroke-width="0.12">80</text>
<line x1="62.9" y1="631.70" x2="66.1" y2="631.70" stroke="#1a1a1a" stroke-width="1.1"/>
<text x="59.0" y="634.70" font-size="9.2" text-anchor="end" fill="#111" stroke="#111" stroke-width="0.12">100</text>
<line x1="62.7" y1="729.7" x2="228.8" y2="729.7" stroke="#1a1a1a" stroke-width="1.3"/>
<line x1="86.50" y1="729.7" x2="86.50" y2="733.1" stroke="#1a1a1a" stroke-width="1.1"/>
<line x1="127.30" y1="729.7" x2="127.30" y2="733.1" stroke="#1a1a1a" stroke-width="1.1"/>
<line x1="168.10" y1="729.7" x2="168.10" y2="733.1" stroke="#1a1a1a" stroke-width="1.1"/>
<line x1="208.90" y1="729.7" x2="208.90" y2="733.1" stroke="#1a1a1a" stroke-width="1.1"/>
<text x="86.4" y="744.2" font-size="8.9" text-anchor="middle" fill="#111" stroke="#111" stroke-width="0.12">Control</text>
<text x="126.9" y="744.2" font-size="8.9" text-anchor="middle" fill="#111" stroke="#111" stroke-width="0.12">Ruxolitinib</text>
<text x="168.3" y="744.2" font-size="8.9" text-anchor="middle" fill="#111" stroke="#111" stroke-width="0.12">Reolysin</text>
<text x="212.6" y="744.2" font-size="8.9" text-anchor="middle" fill="#111" stroke="#111" stroke-width="0.12">Ruxo + Reo</text>
<rect x="73.70" y="631.61" width="9.90" height="98.19" fill="#6aab45" stroke="#568c38" stroke-width="0.8"/>
<rect x="89.00" y="632.30" width="10.00" height="97.50" fill="#55276b" stroke="#451f57" stroke-width="0.8"/>
<rect x="114.50" y="642.01" width="9.90" height="87.79" fill="#6aab45" stroke="#568c38" stroke-width="0.8"/>
<line x1="119.45" y1="641.61" x2="119.45" y2="636.70" stroke="#6aab45" stroke-width="1.1"/>
<line x1="116.45" y1="636.70" x2="122.45" y2="636.70" stroke="#6aab45" stroke-width="1.1"/>
<rect x="129.80" y="655.45" width="10.00" height="74.35" fill="#55276b" stroke="#451f57" stroke-width="0.8"/>
<line x1="134.80" y1="655.05" x2="134.80" y2="651.52" stroke="#55276b" stroke-width="1.1"/>
<line x1="131.80" y1="651.52" x2="137.80" y2="651.52" stroke="#55276b" stroke-width="1.1"/>
<rect x="155.30" y="690.96" width="9.90" height="38.84" fill="#6aab45" stroke="#568c38" stroke-width="0.8"/>
<line x1="160.25" y1="690.56" x2="160.25" y2="687.81" stroke="#6aab45" stroke-width="1.1"/>
<line x1="157.25" y1="687.81" x2="163.25" y2="687.81" stroke="#6aab45" stroke-width="1.1"/>
<rect x="170.60" y="706.66" width="10.00" height="23.14" fill="#55276b" stroke="#451f57" stroke-width="0.8"/>
<line x1="175.60" y1="706.26" x2="175.60" y2="704.59" stroke="#55276b" stroke-width="1.1"/>
<line x1="172.60" y1="704.59" x2="178.60" y2="704.59" stroke="#55276b" stroke-width="1.1"/>
<rect x="196.10" y="719.31" width="9.90" height="10.49" fill="#6aab45" stroke="#568c38" stroke-width="0.8"/>
<rect x="211.40" y="718.04" width="10.00" height="11.76" fill="#55276b" stroke="#451f57" stroke-width="0.8"/>
<line x1="216.40" y1="717.64" x2="216.40" y2="717.05" stroke="#55276b" stroke-width="1.1"/>
<line x1="213.40" y1="717.05" x2="219.40" y2="717.05" stroke="#55276b" stroke-width="1.1"/>
<polygon points="135.00,643.30 135.65,644.71 137.19,644.89 136.05,645.94 136.35,647.46 135.00,646.70 133.65,647.46 133.95,645.94 132.81,644.89 134.35,644.71" fill="#111"/>
<polygon points="160.60,679.70 161.25,681.11 162.79,681.29 161.65,682.34 161.95,683.86 160.60,683.10 159.25,683.86 159.55,682.34 158.41,681.29 159.95,681.11" fill="#111"/>
<polygon points="176.00,696.40 176.65,697.81 178.19,697.99 177.05,699.04 177.35,700.56 176.00,699.80 174.65,700.56 174.95,699.04 173.81,697.99 175.35,697.81" fill="#111"/>
<polygon points="198.80,709.60 199.45,711.01 200.99,711.19 199.85,712.24 200.15,713.76 198.80,713.00 197.45,713.76 197.75,712.24 196.61,711.19 198.15,711.01" fill="#111"/>
<polygon points="203.80,709.60 204.45,711.01 205.99,711.19 204.85,712.24 205.15,713.76 203.80,713.00 202.45,713.76 202.75,712.24 201.61,711.19 203.15,711.01" fill="#111"/>
<polygon points="214.50,707.90 215.15,709.31 216.69,709.49 215.55,710.54 215.85,712.06 214.50,711.30 213.15,712.06 213.45,710.54 212.31,709.49 213.85,709.31" fill="#111"/>
<polygon points="218.80,707.90 219.45,709.31 220.99,709.49 219.85,710.54 220.15,712.06 218.80,711.30 217.45,712.06 217.75,710.54 216.61,709.49 218.15,709.31" fill="#111"/>
<line x1="62.7" y1="729.7" x2="228.8" y2="729.7" stroke="#1a1a1a" stroke-width="1.3"/>
<line x1="66.1" y1="627.0" x2="66.1" y2="730.3" stroke="#1a1a1a" stroke-width="1.5"/>
<rect x="167.9" y="628.1" width="6.6" height="6.6" fill="#6aab45"/>
<rect x="167.9" y="640.0" width="6.6" height="6.6" fill="#55276b"/>
<text x="178.0" y="633.8" font-size="7.8" textLength="45.5" lengthAdjust="spacingAndGlyphs" fill="#111" stroke="#111" stroke-width="0.12">KARPAS-299</text>
<text x="178.0" y="645.8" font-size="7.8" textLength="51.3" lengthAdjust="spacingAndGlyphs" fill="#111" stroke="#111" stroke-width="0.12">KARPAS-299R</text>
<text transform="translate(37.3,698.9) rotate(-90)" font-size="10.8" textLength="40.9" lengthAdjust="spacingAndGlyphs" fill="#111" stroke="#111" stroke-width="0.38">Viability (%)</text>
<line x1="306.9" y1="623.8" x2="306.9" y2="730.2" stroke="#1a1a1a" stroke-width="1.5"/>
<line x1="303.9" y1="729.60" x2="306.9" y2="729.60" stroke="#1a1a1a" stroke-width="1.1"/>
<text x="299.6" y="732.60" font-size="9.2" text-anchor="end" fill="#111" stroke="#111" stroke-width="0.12">0</text>
<line x1="303.9" y1="709.42" x2="306.9" y2="709.42" stroke="#1a1a1a" stroke-width="1.1"/>
<text x="299.6" y="712.42" font-size="9.2" text-anchor="end" fill="#111" stroke="#111" stroke-width="0.12">20</text>
<line x1="303.9" y1="689.24" x2="306.9" y2="689.24" stroke="#1a1a1a" stroke-width="1.1"/>
<text x="299.6" y="692.24" font-size="9.2" text-anchor="end" fill="#111" stroke="#111" stroke-width="0.12">40</text>
<line x1="303.9" y1="669.06" x2="306.9" y2="669.06" stroke="#1a1a1a" stroke-width="1.1"/>
<text x="299.6" y="672.06" font-size="9.2" text-anchor="end" fill="#111" stroke="#111" stroke-width="0.12">60</text>
<line x1="303.9" y1="648.88" x2="306.9" y2="648.88" stroke="#1a1a1a" stroke-width="1.1"/>
<text x="299.6" y="651.88" font-size="9.2" text-anchor="end" fill="#111" stroke="#111" stroke-width="0.12">80</text>
<line x1="303.9" y1="628.70" x2="306.9" y2="628.70" stroke="#1a1a1a" stroke-width="1.1"/>
<text x="299.6" y="631.70" font-size="9.2" text-anchor="end" fill="#111" stroke="#111" stroke-width="0.12">100</text>
<line x1="304.0" y1="729.6" x2="480.0" y2="729.6" stroke="#1a1a1a" stroke-width="1.3"/>
<line x1="327.90" y1="729.6" x2="327.90" y2="733.0" stroke="#1a1a1a" stroke-width="1.1"/>
<line x1="371.35" y1="729.6" x2="371.35" y2="733.0" stroke="#1a1a1a" stroke-width="1.1"/>
<line x1="414.80" y1="729.6" x2="414.80" y2="733.0" stroke="#1a1a1a" stroke-width="1.1"/>
<line x1="458.25" y1="729.6" x2="458.25" y2="733.0" stroke="#1a1a1a" stroke-width="1.1"/>
<text x="329.2" y="744.2" font-size="8.9" text-anchor="middle" fill="#111" stroke="#111" stroke-width="0.12">Control</text>
<text x="372.0" y="744.2" font-size="8.9" text-anchor="middle" fill="#111" stroke="#111" stroke-width="0.12">Ruxolitinib</text>
<text x="415.6" y="744.2" font-size="8.9" text-anchor="middle" fill="#111" stroke="#111" stroke-width="0.12">Reolysin</text>
<text x="459.4" y="744.2" font-size="8.9" text-anchor="middle" fill="#111" stroke="#111" stroke-width="0.12">Ruxo + Reo</text>
<rect x="315.40" y="630.51" width="10.40" height="99.09" fill="#2c4a80" stroke="#243c68" stroke-width="0.8"/>
<rect x="331.40" y="629.10" width="10.40" height="100.50" fill="#a6032d" stroke="#880224" stroke-width="0.8"/>
<rect x="358.85" y="637.27" width="10.40" height="92.33" fill="#2c4a80" stroke="#243c68" stroke-width="0.8"/>
<line x1="364.05" y1="636.87" x2="364.05" y2="630.52" stroke="#2c4a80" stroke-width="1.1"/>
<line x1="361.05" y1="630.52" x2="367.05" y2="630.52" stroke="#2c4a80" stroke-width="1.1"/>
<rect x="374.85" y="630.11" width="10.40" height="99.49" fill="#a6032d" stroke="#880224" stroke-width="0.8"/>
<line x1="380.05" y1="629.71" x2="380.05" y2="624.87" stroke="#a6032d" stroke-width="1.1"/>
<line x1="377.05" y1="624.87" x2="383.05" y2="624.87" stroke="#a6032d" stroke-width="1.1"/>
<rect x="402.30" y="680.36" width="10.40" height="49.24" fill="#2c4a80" stroke="#243c68" stroke-width="0.8"/>
<line x1="407.50" y1="679.96" x2="407.50" y2="673.50" stroke="#2c4a80" stroke-width="1.1"/>
<line x1="404.50" y1="673.50" x2="410.50" y2="673.50" stroke="#2c4a80" stroke-width="1.1"/>
<rect x="418.30" y="702.76" width="10.40" height="26.84" fill="#a6032d" stroke="#880224" stroke-width="0.8"/>
<line x1="423.50" y1="702.36" x2="423.50" y2="701.05" stroke="#a6032d" stroke-width="1.1"/>
<line x1="420.50" y1="701.05" x2="426.50" y2="701.05" stroke="#a6032d" stroke-width="1.1"/>
<rect x="445.75" y="709.11" width="10.40" height="20.49" fill="#2c4a80" stroke="#243c68" stroke-width="0.8"/>
<line x1="450.95" y1="708.71" x2="450.95" y2="708.41" stroke="#2c4a80" stroke-width="1.1"/>
<line x1="447.95" y1="708.41" x2="453.95" y2="708.41" stroke="#2c4a80" stroke-width="1.1"/>
<rect x="461.75" y="715.67" width="10.40" height="13.93" fill="#a6032d" stroke="#880224" stroke-width="0.8"/>
<line x1="466.95" y1="715.27" x2="466.95" y2="714.97" stroke="#a6032d" stroke-width="1.1"/>
<line x1="463.95" y1="714.97" x2="469.95" y2="714.97" stroke="#a6032d" stroke-width="1.1"/>
<polygon points="407.70,665.30 408.35,666.71 409.89,666.89 408.75,667.94 409.05,669.46 407.70,668.70 406.35,669.46 406.65,667.94 405.51,666.89 407.05,666.71" fill="#111"/>
<polygon points="423.90,692.20 424.55,693.61 426.09,693.79 424.95,694.84 425.25,696.36 423.90,695.60 422.55,696.36 422.85,694.84 421.71,693.79 423.25,693.61" fill="#111"/>
<polygon points="448.80,699.50 449.45,700.91 450.99,701.09 449.85,702.14 450.15,703.66 448.80,702.90 447.45,703.66 447.75,702.14 446.61,701.09 448.15,700.91" fill="#111"/>
<polygon points="453.00,699.50 453.65,700.91 455.19,701.09 454.05,702.14 454.35,703.66 453.00,702.90 451.65,703.66 451.95,702.14 450.81,701.09 452.35,700.91" fill="#111"/>
<polygon points="465.00,706.50 465.65,707.91 467.19,708.09 466.05,709.14 466.35,710.66 465.00,709.90 463.65,710.66 463.95,709.14 462.81,708.09 464.35,707.91" fill="#111"/>
<polygon points="469.20,706.50 469.85,707.91 471.39,708.09 470.25,709.14 470.55,710.66 469.20,709.90 467.85,710.66 468.15,709.14 467.01,708.09 468.55,707.91" fill="#111"/>
<line x1="304.0" y1="729.6" x2="480.0" y2="729.6" stroke="#1a1a1a" stroke-width="1.3"/>
<line x1="306.9" y1="623.8" x2="306.9" y2="730.2" stroke="#1a1a1a" stroke-width="1.5"/>
<rect x="441.4" y="627.7" width="6.7" height="6.7" fill="#2c4a80"/>
<rect x="441.4" y="639.8" width="6.7" height="6.7" fill="#a6032d"/>
<text x="451.6" y="633.3" font-size="7.8" textLength="23.8" lengthAdjust="spacingAndGlyphs" fill="#111" stroke="#111" stroke-width="0.12">HuT-78</text>
<text x="451.6" y="645.2" font-size="7.8" textLength="28.9" lengthAdjust="spacingAndGlyphs" fill="#111" stroke="#111" stroke-width="0.12">HuT-78R</text>
<text transform="translate(278.2,697.7) rotate(-90)" font-size="10.8" textLength="40.9" lengthAdjust="spacingAndGlyphs" fill="#111" stroke="#111" stroke-width="0.38">Viability (%)</text>
<rect x="0" y="1" width="520" height="1" fill="#a0a0a0"/>
<rect x="0" y="0" width="520" height="1" fill="#050505"/>
<rect x="0" y="752" width="520" height="1" fill="#808080"/>
<rect x="0" y="753" width="520" height="1" fill="#050505"/>
<rect x="2" y="0" width="1" height="754" fill="#e4e4e4"/>
<rect x="1" y="0" width="1" height="754" fill="#5a5a5a"/>
<rect x="0" y="0" width="1" height="754" fill="#151515"/>
<rect x="517" y="0" width="1" height="754" fill="#e0e0e0"/>
<rect x="518" y="0" width="1" height="754" fill="#555"/>
<rect x="519" y="0" width="1" height="754" fill="#111"/>
</svg></body></html>
